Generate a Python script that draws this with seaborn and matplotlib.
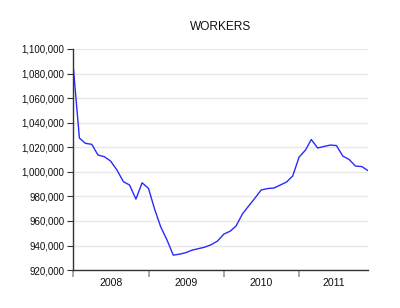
import matplotlib
matplotlib.use("Agg")
import matplotlib.pyplot as plt
import matplotlib.dates as mdates
from matplotlib.ticker import FuncFormatter, FixedLocator, FixedFormatter
import seaborn as sns
import pandas as pd

title = "WORKERS"
start_month = "2008-01-01"
years = [2008, 2009, 2010, 2011]
workers = [
    1088000, 1027500, 1023200, 1022400, 1013700, 1012300, 1008800, 1001500,
    992000, 989300, 977800, 991100, 986500, 968900, 955300, 944400,
    932200, 933000, 934200, 936300, 937500, 938700, 940700, 943600,
    949300, 951700, 955800, 965600, 972100, 978600, 985200, 986400,
    986800, 989200, 991700, 996600, 1012000, 1017700, 1026300, 1019400,
    1020600, 1021800, 1021400, 1012800, 1010000, 1004700, 1004300, 1001000,
]
y_ticks = [920000, 940000, 960000, 980000, 1000000, 1020000, 1040000,
           1060000, 1080000, 1100000]

dates = pd.date_range(start_month, periods=len(workers), freq="MS")
df = pd.DataFrame({"date": dates, "workers": workers})

sns.set_theme(style="white")
plt.rcParams["font.family"] = ["Liberation Sans", "DejaVu Sans"]

fig = plt.figure(figsize=(4.0, 3.08), dpi=100)
ax = fig.add_axes([0.1825, 0.123, 0.7375, 0.718])

sns.lineplot(data=df, x="date", y="workers", ax=ax, color="#2a2aff",
             linewidth=1.0)

xmin, xmax = dates[0], dates[-1]
ax.set_xlim(xmin, xmax)
ax.set_ylim(y_ticks[0], y_ticks[-1])

ax.yaxis.set_major_locator(FixedLocator(y_ticks))
ax.yaxis.set_major_formatter(FuncFormatter(lambda v, p: f"{int(v):,}"))
ax.grid(axis="y", color="#e8e8e8", linewidth=1.0)
ax.set_axisbelow(True)

# year boundaries as major ticks (no labels), year labels centred as minor
bounds = [pd.Timestamp(f"{y}-01-01") for y in years]
centers = []
for y in years:
    a = max(pd.Timestamp(f"{y}-01-01"), xmin)
    b = min(pd.Timestamp(f"{y + 1}-01-01"), xmax)
    centers.append(a + (b - a) / 2)
ax.xaxis.set_major_locator(FixedLocator([mdates.date2num(b) for b in bounds]))
ax.xaxis.set_major_formatter(FuncFormatter(lambda v, p: ""))
ax.xaxis.set_minor_locator(FixedLocator([mdates.date2num(c) for c in centers]))
ax.xaxis.set_minor_formatter(FixedFormatter([str(y) for y in years]))

ax.tick_params(axis="x", which="major", length=5, width=1.2, color="#999999",
               direction="out", bottom=True)
ax.tick_params(axis="x", which="minor", length=0, labelsize=7.6, pad=6,
               labelcolor="#111111")
ax.tick_params(axis="y", which="major", length=4, width=0.8, color="#333333",
               direction="out", left=True, labelsize=7, pad=2,
               labelcolor="#111111")

for s in ["top", "right"]:
    ax.spines[s].set_visible(False)
for s in ["left", "bottom"]:
    ax.spines[s].set_color("#333333")
    ax.spines[s].set_linewidth(1.0)

ax.set_xlabel("")
ax.set_ylabel("")
ax.set_title(title, fontsize=8.6, pad=14, color="#111111")

fig.savefig("out.png", dpi=100)
